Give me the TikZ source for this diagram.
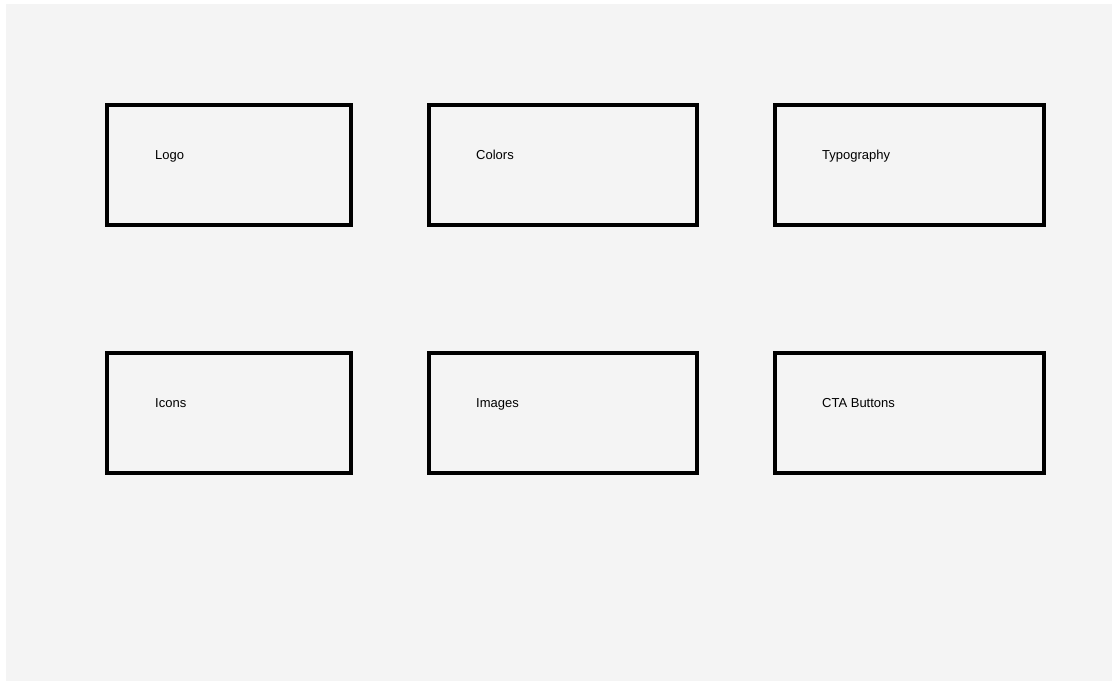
\documentclass[tikz,border=0pt]{standalone}
\usepackage{fontspec}
\setmainfont{Liberation Sans}
\definecolor{bg}{HTML}{F4F4F4}
\begin{document}
\begin{tikzpicture}[x=1pt,y=-1pt,
  card/.style={draw=black,line width=4pt,fill=bg},
  lbl/.style={anchor=base west,inner sep=0pt,font=\fontsize{13}{15}\selectfont}]
\useasboundingbox (0,0) rectangle (1112,681);
\fill[bg] (6,4) rectangle (1112,681);
\draw[card] (107,105) rectangle (351,225);
\draw[card] (429,105) rectangle (697,225);
\draw[card] (775,105) rectangle (1044,225);
\draw[card] (107,353) rectangle (351,473);
\draw[card] (429,353) rectangle (697,473);
\draw[card] (775,353) rectangle (1044,473);
\node[lbl] (logo) at (155,159.5) {Logo};
\node[lbl] (colors) at (476,159.5) {Colors};
\node[lbl] (typo) at (822,159.5) {Typography};
\node[lbl] (icons) at (155,407.5) {Icons};
\node[lbl] (images) at (476,407.5) {Images};
\node[lbl] (cta) at (822,407.5) {CTA Buttons};
\end{tikzpicture}
\end{document}
